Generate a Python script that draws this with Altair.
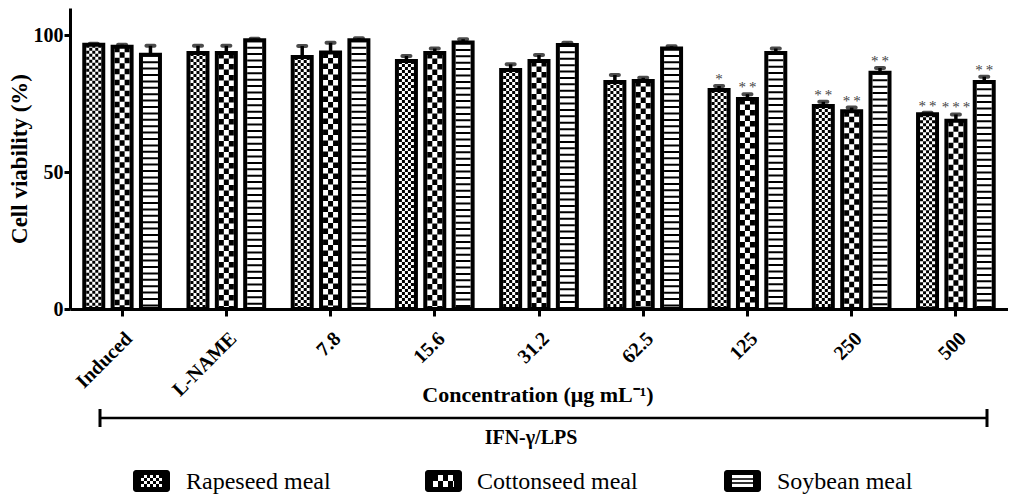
import altair as alt
import pandas as pd

categories = ["Induced", "L-NAME", "7.8", "15.6", "31.2", "62.5", "125", "250", "500"]
series = ["Rapeseed meal", "Cottonseed meal", "Soybean meal"]

rapeseed = [96.6, 93.6, 92.1, 90.6, 87.3, 83.0, 80.0, 74.2, 71.2]
rapeseed_err = [0.3, 2.6, 4.0, 1.9, 2.1, 2.5, 1.5, 1.5, 0.5]
cottonseed = [95.8, 93.6, 93.7, 93.6, 90.6, 83.3, 76.7, 72.3, 68.8]
cottonseed_err = [0.8, 2.6, 3.6, 1.6, 2.2, 1.2, 1.8, 1.3, 2.3]
soybean = [92.9, 98.2, 98.2, 97.4, 96.5, 95.2, 93.6, 86.3, 83.0]
soybean_err = [3.3, 0.6, 0.7, 1.2, 0.8, 0.8, 1.6, 1.8, 1.9]

rapeseed_sig = ["", "", "", "", "", "", "*", "**", "**"]
cottonseed_sig = ["", "", "", "", "", "", "**", "**", "***"]
soybean_sig = ["", "", "", "", "", "", "", "**", "**"]

y_title = "Cell viability (%)"
x_title = "Concentration (\u03bcg mL\u207b\u00b9)"
bracket_label = "IFN-\u03b3/LPS"

rows = []
for s, vals, errs, sigs in zip(series,
                               [rapeseed, cottonseed, soybean],
                               [rapeseed_err, cottonseed_err, soybean_err],
                               [rapeseed_sig, cottonseed_sig, soybean_sig]):
    for c, v, e, g in zip(categories, vals, errs, sigs):
        rows.append({"category": c, "series": s, "value": v, "upper": v + e,
                     "sig": "\u2009".join(list(g))})
df = pd.DataFrame(rows)
one = pd.DataFrame({"k": [0]})

SERIF = "Liberation Serif"
X0, Y0 = 70, 8  # plot origin on the page


def xenc(band=None):
    kw = dict(sort=categories,
              scale=alt.Scale(paddingInner=0.184, paddingOuter=0.092),
              axis=alt.Axis(labelAngle=-45, labelFont=SERIF, labelFontWeight="bold",
                            labelFontSize=20, labelPadding=12, title=None))
    if band is not None:
        kw["bandPosition"] = band
    return alt.X("category:N", **kw)


yenc = alt.Y("value:Q", scale=alt.Scale(domain=[0, 110], nice=False),
             axis=alt.Axis(values=[0, 50, 100], title=y_title, titleFont=SERIF,
                           titleFontWeight="bold", titleFontSize=23, titlePadding=2,
                           labelFont=SERIF, labelFontWeight="bold", labelFontSize=20,
                           labelPadding=1, tickSize=6))
xoff = alt.XOffset("series:N", sort=series,
                   scale=alt.Scale(paddingInner=0.33, paddingOuter=0.165))

base = alt.Chart(df)

bars = base.mark_bar(fill="white", stroke="black", strokeWidth=4).encode(
    x=xenc(), xOffset=xoff, y=yenc)


def pattern(sname, band, offsets, width, dash, dash_offsets):
    out = []
    for off, doff in zip(offsets, dash_offsets):
        out.append(base.transform_filter(alt.datum.series == sname).mark_rule(
            xOffset=off, strokeWidth=width, strokeDash=dash,
            strokeDashOffset=doff, color="black").encode(
            x=xenc(band), y="value:Q", y2=alt.datum(0)))
    return out


pat_layers = []
pat_layers += pattern(series[0], 1 / 6, [-6, -3, 0, 3, 6], 3, [3, 3], [0, 3, 0, 3, 0])
pat_layers += pattern(series[1], 0.5, [-5, 0, 5], 5, [5.5, 5.5], [0, 5.5, 0])
pat_layers += pattern(series[2], 5 / 6, [0], 15, [2, 4.4], [0])

err = base.mark_rule(strokeWidth=3.5, color="black").encode(
    x=xenc(), xOffset=xoff, y="value:Q", y2="upper:Q")
cap = base.mark_tick(thickness=4, size=12, color="black", cornerRadius=2).encode(
    x=xenc(), xOffset=xoff, y="upper:Q")
stars = base.mark_text(font=SERIF, fontSize=15, color="#444", baseline="alphabetic",
                       dy=-2).encode(x=xenc(), xOffset=xoff, y="upper:Q", text="sig:N")

# labels under the axis
xt = alt.Chart(one).mark_text(font=SERIF, fontWeight="bold", fontSize=22,
                              baseline="middle", align="center").encode(
    x=alt.value(538 - X0), y=alt.value(395 - Y0), text=alt.value(x_title))
br_line = alt.Chart(one).mark_rule(strokeWidth=2.5, color="black").encode(
    x=alt.value(100 - X0), x2=alt.value(987 - X0), y=alt.value(418 - Y0))
br_l = alt.Chart(one).mark_rule(strokeWidth=3, color="black").encode(
    x=alt.value(100 - X0), y=alt.value(409 - Y0), y2=alt.value(427 - Y0))
br_r = alt.Chart(one).mark_rule(strokeWidth=3, color="black").encode(
    x=alt.value(987 - X0), y=alt.value(409 - Y0), y2=alt.value(427 - Y0))
br_t = alt.Chart(one).mark_text(font=SERIF, fontWeight="bold", fontSize=20,
                                baseline="middle", align="center").encode(
    x=alt.value(531 - X0), y=alt.value(438 - Y0), text=alt.value(bracket_label))


def legend_item(name, sx, tx, kind):
    out = []
    out.append(alt.Chart(one).mark_rect(color="black", cornerRadius=3).encode(
        x=alt.value(sx - X0), x2=alt.value(sx + 37 - X0),
        y=alt.value(470 - Y0), y2=alt.value(492 - Y0)))
    out.append(alt.Chart(one).mark_rect(color="white").encode(
        x=alt.value(sx + 8 - X0), x2=alt.value(sx + 29 - X0),
        y=alt.value(475 - Y0), y2=alt.value(487 - Y0)))
    if kind == "fine":
        for i in range(4):
            yy = 476.5 + 3 * i
            out.append(alt.Chart(one).mark_rule(strokeWidth=3, strokeDash=[3, 3],
                                                strokeDashOffset=3 * (i % 2), color="black").encode(
                x=alt.value(sx + 8 - X0), x2=alt.value(sx + 29 - X0), y=alt.value(yy - Y0)))
    elif kind == "coarse":
        for i in range(2):
            yy = 478 + 6 * i
            out.append(alt.Chart(one).mark_rule(strokeWidth=6, strokeDash=[5, 5],
                                                strokeDashOffset=5 * (i % 2), color="black").encode(
                x=alt.value(sx + 8 - X0), x2=alt.value(sx + 29 - X0), y=alt.value(yy - Y0)))
    else:
        for yy in [479, 483]:
            out.append(alt.Chart(one).mark_rule(strokeWidth=1.6, color="black").encode(
                x=alt.value(sx + 8 - X0), x2=alt.value(sx + 29 - X0), y=alt.value(yy - Y0)))
    out.append(alt.Chart(one).mark_text(font=SERIF, fontSize=24, align="left",
                                        baseline="middle").encode(
        x=alt.value(tx - X0), y=alt.value(482 - Y0), text=alt.value(name)))
    return out


leg = []
leg += legend_item(series[0], 133, 186, "fine")
leg += legend_item(series[1], 425, 477, "coarse")
leg += legend_item(series[2], 724, 777, "stripes")

chart = alt.layer(bars, *pat_layers, err, cap, stars, xt, br_line, br_l, br_r, br_t, *leg).properties(
    width=938, height=301,
    padding={"left": 62, "top": 0, "right": 0, "bottom": 185},
    autosize="none",
).configure_axis(
    domainColor="black", domainWidth=3, tickColor="black", tickWidth=3, tickSize=7,
    labelColor="black", titleColor="black", grid=False,
).configure_view(strokeWidth=0)

chart.save("out.html", embed_options={"renderer": "svg", "actions": False})
